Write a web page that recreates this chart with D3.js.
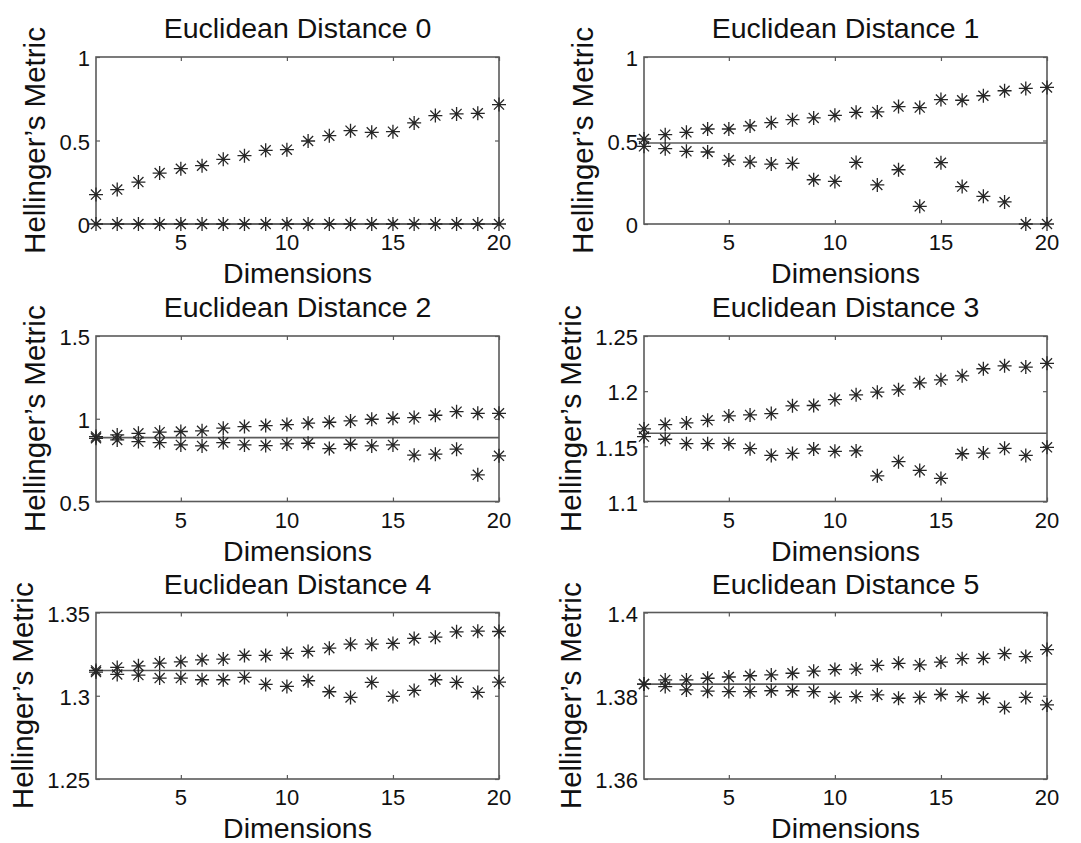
<!DOCTYPE html>
<html>
<head>
<meta charset="utf-8">
<script src="https://cdn.jsdelivr.net/npm/d3@7/dist/d3.min.js"></script>
<style>
  html, body { margin: 0; padding: 0; background: #fff; }
  svg { display: block; }
  text { font-family: "Liberation Sans", Arial, sans-serif; fill: #111; }
</style>
</head>
<body>
<svg id="chart" width="1081" height="843"></svg>
<script>
// ---------- DATA ----------
const dims = [1,2,3,4,5,6,7,8,9,10,11,12,13,14,15,16,17,18,19,20];
const titles = ["Euclidean Distance 0","Euclidean Distance 1","Euclidean Distance 2",
                "Euclidean Distance 3","Euclidean Distance 4","Euclidean Distance 5"];
const xLabel = "Dimensions";
const yLabel = "Hellinger\u2019s Metric";
const xTicks = [5,10,15,20];

const upper0 = [0.176,0.206,0.251,0.305,0.331,0.349,0.387,0.409,0.441,0.445,0.497,0.529,0.559,0.549,0.553,0.605,0.649,0.659,0.663,0.715];
const lower0 = [0,0,0,0,0,0,0,0,0,0,0,0,0,0,0,0,0,0,0,0];
const upper1 = [0.509,0.535,0.549,0.569,0.569,0.587,0.607,0.625,0.635,0.651,0.669,0.671,0.703,0.697,0.745,0.741,0.768,0.798,0.812,0.818];
const lower1 = [0.465,0.451,0.435,0.431,0.383,0.371,0.359,0.363,0.265,0.255,0.369,0.234,0.325,0.106,0.367,0.224,0.166,0.132,0,0];
const upper2 = [0.892,0.902,0.912,0.919,0.923,0.927,0.943,0.953,0.959,0.965,0.973,0.979,0.987,0.997,1.003,1.007,1.021,1.043,1.033,1.033];
const lower2 = [0.882,0.872,0.862,0.856,0.842,0.836,0.856,0.842,0.838,0.848,0.852,0.820,0.846,0.836,0.842,0.780,0.786,0.816,0.661,0.776];
const upper3 = [1.1658,1.1697,1.1712,1.1736,1.1776,1.1785,1.1797,1.1867,1.1870,1.1924,1.1967,1.1991,1.2012,1.2076,1.2103,1.2139,1.2203,1.2230,1.2218,1.2252];
const lower3 = [1.1588,1.1564,1.1524,1.1524,1.1524,1.1479,1.1418,1.1436,1.1476,1.1455,1.1458,1.1233,1.1361,1.1282,1.1209,1.1433,1.1439,1.1482,1.1418,1.1491];
const upper4 = [1.3152,1.3170,1.3180,1.3196,1.3204,1.3216,1.3220,1.3242,1.3242,1.3254,1.3266,1.3286,1.3310,1.3310,1.3314,1.3344,1.3352,1.3384,1.3388,1.3386];
const lower4 = [1.3142,1.3128,1.3124,1.3106,1.3106,1.3096,1.3096,1.3110,1.3068,1.3056,1.3090,1.3024,1.2990,1.3080,1.2996,1.3032,1.3096,1.3080,1.3020,1.3082];
const upper5 = [1.3828,1.3838,1.3838,1.3842,1.3845,1.3848,1.3850,1.3854,1.3859,1.3863,1.3864,1.3873,1.3878,1.3874,1.3881,1.3889,1.3890,1.3901,1.3894,1.3911];
const lower5 = [1.3828,1.3822,1.3814,1.3811,1.3810,1.3810,1.3812,1.3812,1.3810,1.3796,1.3798,1.3802,1.3794,1.3796,1.3803,1.3798,1.3794,1.3772,1.3796,1.3778];

const refLines = [0, 0.485, 0.886, 1.1618, 1.3152, 1.3828];
const yDomains = [[0,1],[0,1],[0.5,1.5],[1.1,1.25],[1.25,1.35],[1.36,1.4]];
const yTicks = [[0,0.5,1],[0,0.5,1],[0.5,1,1.5],[1.1,1.15,1.2,1.25],[1.25,1.3,1.35],[1.36,1.38,1.4]];
const yTickLabels = [["0","0.5","1"],["0","0.5","1"],["0.5","1","1.5"],["1.1","1.15","1.2","1.25"],["1.25","1.3","1.35"],["1.36","1.38","1.4"]];

const uppers = [upper0, upper1, upper2, upper3, upper4, upper5];
const lowers = [lower0, lower1, lower2, lower3, lower4, lower5];

// ---------- LAYOUT ----------
const colX = [[96, 499], [644, 1047]];
const rowY = [[57, 224], [336, 501.5], [612.5, 779]];

const svg = d3.select("#chart");
const frameColor = "#5a5a5a";
const markColor = "#262626";
const R = 7;

function star(g, x, y) {
  const d = R, e = R * 0.72;
  g.append("path")
    .attr("d", `M${x-d},${y}L${x+d},${y}M${x},${y-d}L${x},${y+d}` +
               `M${x-e},${y-e}L${x+e},${y+e}M${x-e},${y+e}L${x+e},${y-e}`)
    .attr("stroke", markColor).attr("stroke-width", 1.3).attr("fill", "none");
}

for (let i = 0; i < 6; i++) {
  const col = i % 2, row = Math.floor(i / 2);
  const [x0, x1] = colX[col];
  const [y0, y1] = rowY[row];
  const x = d3.scaleLinear().domain([1, 20]).range([x0, x1]);
  const y = d3.scaleLinear().domain(yDomains[i]).range([y1, y0]);
  const g = svg.append("g");

  // reference horizontal line
  g.append("line")
    .attr("x1", x(1)).attr("x2", x(20))
    .attr("y1", y(refLines[i])).attr("y2", y(refLines[i]))
    .attr("stroke", frameColor).attr("stroke-width", 1.6);

  // frame
  g.append("rect").attr("x", x0).attr("y", y0)
    .attr("width", x1 - x0).attr("height", y1 - y0)
    .attr("fill", "none").attr("stroke", frameColor).attr("stroke-width", 1.6);

  // inward ticks on all four sides
  const bx = d3.axisBottom(x).tickValues(xTicks).tickSize(-4).tickFormat("");
  const tx = d3.axisTop(x).tickValues(xTicks).tickSize(-4).tickFormat("");
  const ly = d3.axisLeft(y).tickValues(yTicks[i]).tickSize(-4).tickFormat("");
  const ry = d3.axisRight(y).tickValues(yTicks[i]).tickSize(-4).tickFormat("");
  [[bx, `translate(0,${y1})`], [tx, `translate(0,${y0})`],
   [ly, `translate(${x0},0)`], [ry, `translate(${x1},0)`]].forEach(([ax, tr]) => {
    const a = g.append("g").attr("transform", tr).call(ax);
    a.select(".domain").remove();
    a.selectAll("line").attr("stroke", frameColor).attr("stroke-width", 1.2);
  });

  // x tick labels
  g.selectAll(".xt").data(xTicks).enter().append("text")
    .attr("x", d => x(d)).attr("y", y1 + 26)
    .attr("text-anchor", "middle").attr("font-size", 22)
    .text(d => d);

  // y tick labels
  const labs = g.selectAll(".yt").data(yTicks[i]).enter().append("text")
    .attr("x", x0 - 6).attr("y", d => y(d)).attr("dy", "0.42em")
    .attr("text-anchor", "end").attr("font-size", 22)
    .text((d, k) => yTickLabels[i][k]);
  let maxW = 0;
  labs.each(function () { maxW = Math.max(maxW, this.getComputedTextLength()); });

  // markers
  dims.forEach((d, k) => {
    star(g, x(d), y(uppers[i][k]));
    star(g, x(d), y(lowers[i][k]));
  });

  // title
  g.append("text").attr("x", (x0 + x1) / 2).attr("y", y0 - 19)
    .attr("text-anchor", "middle").attr("font-size", 28.5).text(titles[i]);

  // x label
  g.append("text").attr("x", (x0 + x1) / 2).attr("y", y1 + 59)
    .attr("text-anchor", "middle").attr("font-size", 28.5).text(xLabel);

  // y label
  const lx = x0 - 6 - maxW - 14;
  g.append("text")
    .attr("transform", `translate(${lx},${(y0 + y1) / 2}) rotate(-90)`)
    .attr("text-anchor", "middle").attr("font-size", 29.5).text(yLabel);
}
</script>
</body>
</html>
